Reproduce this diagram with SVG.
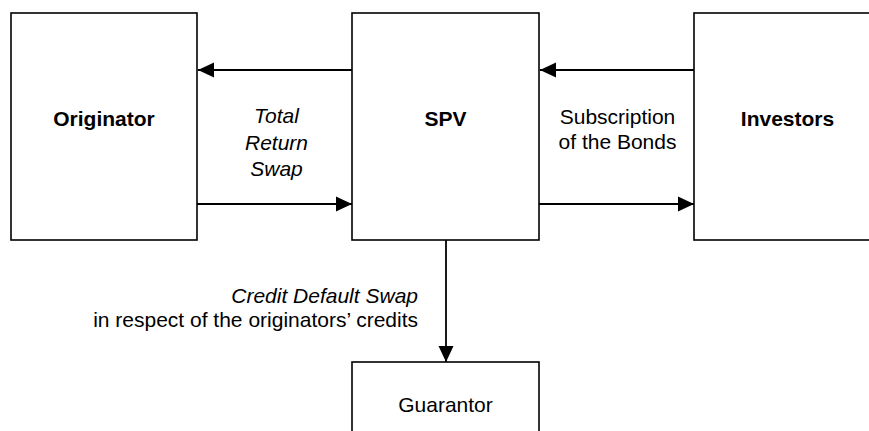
<svg xmlns="http://www.w3.org/2000/svg" width="869" height="431" viewBox="0 0 869 431">
<defs>
<style>
.box{fill:#fff;stroke:#000;stroke-width:1.6}
.conn{stroke:#000;stroke-width:1.8;fill:none}
text{font-family:"Liberation Sans",Arial,sans-serif;font-size:21px;fill:#000}
.b{font-weight:bold}
.i{font-style:italic}
</style>
<marker id="ah" markerUnits="userSpaceOnUse" markerWidth="16" markerHeight="16" viewBox="-16 -8 16 16" refX="0" refY="0" orient="auto">
<polygon points="0,0 -16,-7.5 -16,7.5" fill="#000"/>
</marker>
</defs>
<g id="originator"><rect class="box" x="11" y="13" width="186" height="227"/><text class="b" x="104" y="126" text-anchor="middle">Originator</text></g>
<g id="spv"><rect class="box" x="352" y="13" width="187" height="227"/><text class="b" x="445.5" y="126" text-anchor="middle">SPV</text></g>
<g id="investors"><rect class="box" x="694" y="13" width="187" height="227"/><text class="b" x="787.5" y="126" text-anchor="middle">Investors</text></g>
<g id="guarantor"><rect class="box" x="352" y="362" width="187" height="100"/><text x="445.5" y="412" text-anchor="middle">Guarantor</text></g>
<g id="connectors">
<line class="conn" x1="352" y1="70" x2="198" y2="70" marker-end="url(#ah)"/>
<line class="conn" x1="197" y1="204" x2="352" y2="204" marker-end="url(#ah)"/>
<line class="conn" x1="694" y1="70" x2="540" y2="70" marker-end="url(#ah)"/>
<line class="conn" x1="539" y1="204" x2="694" y2="204" marker-end="url(#ah)"/>
<line class="conn" x1="446" y1="240" x2="446" y2="362" marker-end="url(#ah)"/>
</g>
<g id="labels">
<text class="i" text-anchor="middle" x="276.5" y="123">Total</text>
<text class="i" text-anchor="middle" x="276.5" y="150">Return</text>
<text class="i" text-anchor="middle" x="276.5" y="176">Swap</text>
<text text-anchor="middle" x="617.5" y="124">Subscription</text>
<text text-anchor="middle" x="617.5" y="149">of the Bonds</text>
<text class="i" text-anchor="end" x="418" y="303">Credit Default Swap</text>
<text text-anchor="end" x="418" y="327">in respect of the originators’ credits</text>
</g>
</svg>
